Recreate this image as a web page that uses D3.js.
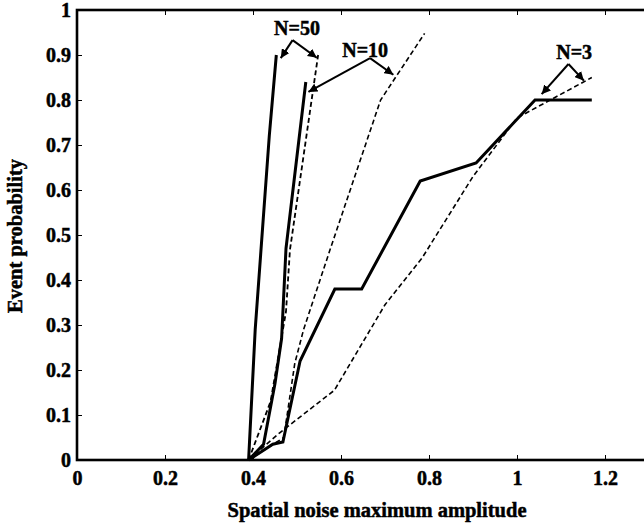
<!DOCTYPE html>
<html>
<head>
<meta charset="utf-8">
<script src="https://cdn.jsdelivr.net/npm/d3@7"></script>
<style>
  body { margin: 0; background: #fff; }
  svg { display: block; }
  text { font-family: "Liberation Serif", "Times New Roman", serif; font-weight: bold; fill: #000; stroke: #000; stroke-width: 0.5px; }
</style>
</head>
<body>
<svg></svg>
<script>
// tick values
var xTicks = [0, 0.2, 0.4, 0.6, 0.8, 1, 1.2];
var yTicks = [0, 0.1, 0.2, 0.3, 0.4, 0.5, 0.6, 0.7, 0.8, 0.9, 1];

// series: [amplitude, probability]
var n50Solid  = [[0.39,0],[0.405,0.29],[0.437,0.72],[0.453,0.9]];
var n50Dashed = [[0.39,0],[0.44,0.13],[0.475,0.33],[0.484,0.467],[0.548,0.9]];
var n10Solid  = [[0.39,0],[0.424,0.035],[0.45,0.17],[0.465,0.27],[0.475,0.47],[0.52,0.84]];
var n10Dashed = [[0.39,0],[0.47,0.05],[0.495,0.215],[0.515,0.29],[0.575,0.467],[0.69,0.8],[0.79,0.948]];
var n3Solid   = [[0.39,0],[0.445,0.035],[0.468,0.04],[0.507,0.22],[0.586,0.38],[0.647,0.38],[0.78,0.62],[0.907,0.66],[1.041,0.8],[1.17,0.8]];
var n3Dashed  = [[0.39,0],[0.46,0.06],[0.585,0.155],[0.7,0.345],[0.785,0.45],[0.9,0.63],[1.0,0.76],[1.17,0.85]];

// annotation labels and the two arrow tips each one points at
var labels   = ["N=50", "N=10", "N=3"];
var labelPos = [[0.5,0.944],[0.655,0.896],[1.13,0.891]];
var arrowFrom = [[0.49,0.933],[0.666,0.893],[1.117,0.88]];
var arrowTips = [[[0.463,0.893],[0.545,0.894]], [[0.526,0.818],[0.719,0.856]], [[1.056,0.813],[1.152,0.843]]];

var screen = {width:644, height:529};
var margins = {top:10, left:77};
var width = 572, height = 450;

var svg = d3.select("svg").attr("width", screen.width).attr("height", screen.height);

var xScale = d3.scaleLinear().domain([0,1.3]).range([0,width]);
var yScale = d3.scaleLinear().domain([0,1]).range([height,0]);

var g = svg.append("g").attr("transform","translate("+margins.left+","+margins.top+")");

var fmt = function(d){ return d3.format("~g")(d); };
var boldText = function(a){
  a.selectAll("text").style("font-size","20px").style("font-family","Liberation Serif").style("font-weight","bold");
};

// axes, ticks pointing inward
g.append("g").attr("transform","translate(0,"+height+")")
  .call(d3.axisBottom(xScale).tickValues(xTicks).tickFormat(fmt).tickSizeInner(-5).tickSizeOuter(0).tickPadding(11))
  .call(boldText);
g.append("g")
  .call(d3.axisLeft(yScale).tickValues(yTicks).tickFormat(fmt).tickSizeInner(-5).tickSizeOuter(0).tickPadding(6))
  .call(boldText);
g.append("g")
  .call(d3.axisTop(xScale).tickValues(xTicks).tickFormat("").tickSizeInner(-5).tickSizeOuter(0));
g.append("g").attr("transform","translate("+width+",0)")
  .call(d3.axisRight(yScale).tickValues(yTicks).tickFormat("").tickSizeInner(-5).tickSizeOuter(0));

g.selectAll(".domain").remove();
g.selectAll(".tick line").attr("stroke","#000").attr("stroke-width",1);

// frame
g.append("rect").attr("width",width).attr("height",height)
  .attr("fill","none").attr("stroke","#000").attr("stroke-width",2.6);

var lineGenerator = d3.line()
  .x(function(d){ return xScale(d[0]); })
  .y(function(d){ return yScale(d[1]); });

var series = [
  {data:n3Dashed, dash:"5,3", w:1.6},
  {data:n10Dashed, dash:"5,3", w:1.6},
  {data:n50Dashed, dash:"5,3", w:1.8},
  {data:n3Solid, dash:null, w:3},
  {data:n10Solid, dash:null, w:3},
  {data:n50Solid, dash:null, w:3}
];

g.selectAll(".series").data(series).enter().append("path")
  .attr("class","series")
  .attr("d", function(s){ return lineGenerator(s.data); })
  .attr("fill","none")
  .attr("stroke","#000")
  .attr("stroke-width", function(s){ return s.w; })
  .attr("stroke-dasharray", function(s){ return s.dash; })
  .attr("stroke-linejoin","miter");

// arrowhead
svg.append("defs").append("marker")
  .attr("id","head").attr("viewBox","0 0 10 10").attr("refX",10).attr("refY",5)
  .attr("markerWidth",9).attr("markerHeight",9).attr("markerUnits","userSpaceOnUse")
  .attr("orient","auto")
  .append("path").attr("d","M0,0L10,5L0,10Z").attr("fill","#000");

labels.forEach(function(lab, i){
  arrowTips[i].forEach(function(tip){
    g.append("line")
      .attr("x1", xScale(arrowFrom[i][0])).attr("y1", yScale(arrowFrom[i][1]))
      .attr("x2", xScale(tip[0])).attr("y2", yScale(tip[1]))
      .attr("stroke","#000").attr("stroke-width",2)
      .attr("marker-end","url(#head)");
  });
  g.append("text")
    .attr("x", xScale(labelPos[i][0])).attr("y", yScale(labelPos[i][1]))
    .attr("text-anchor","middle")
    .style("font-size","20px")
    .text(lab);
});

// axis titles
svg.append("text")
  .attr("x", 377).attr("y", 517)
  .attr("text-anchor","middle")
  .style("font-size","20.5px")
  .text("Spatial noise maximum amplitude");
svg.append("text")
  .attr("transform","translate(22,236) rotate(-90)")
  .attr("text-anchor","middle")
  .style("font-size","20.5px")
  .text("Event probability");
</script>
</body>
</html>
